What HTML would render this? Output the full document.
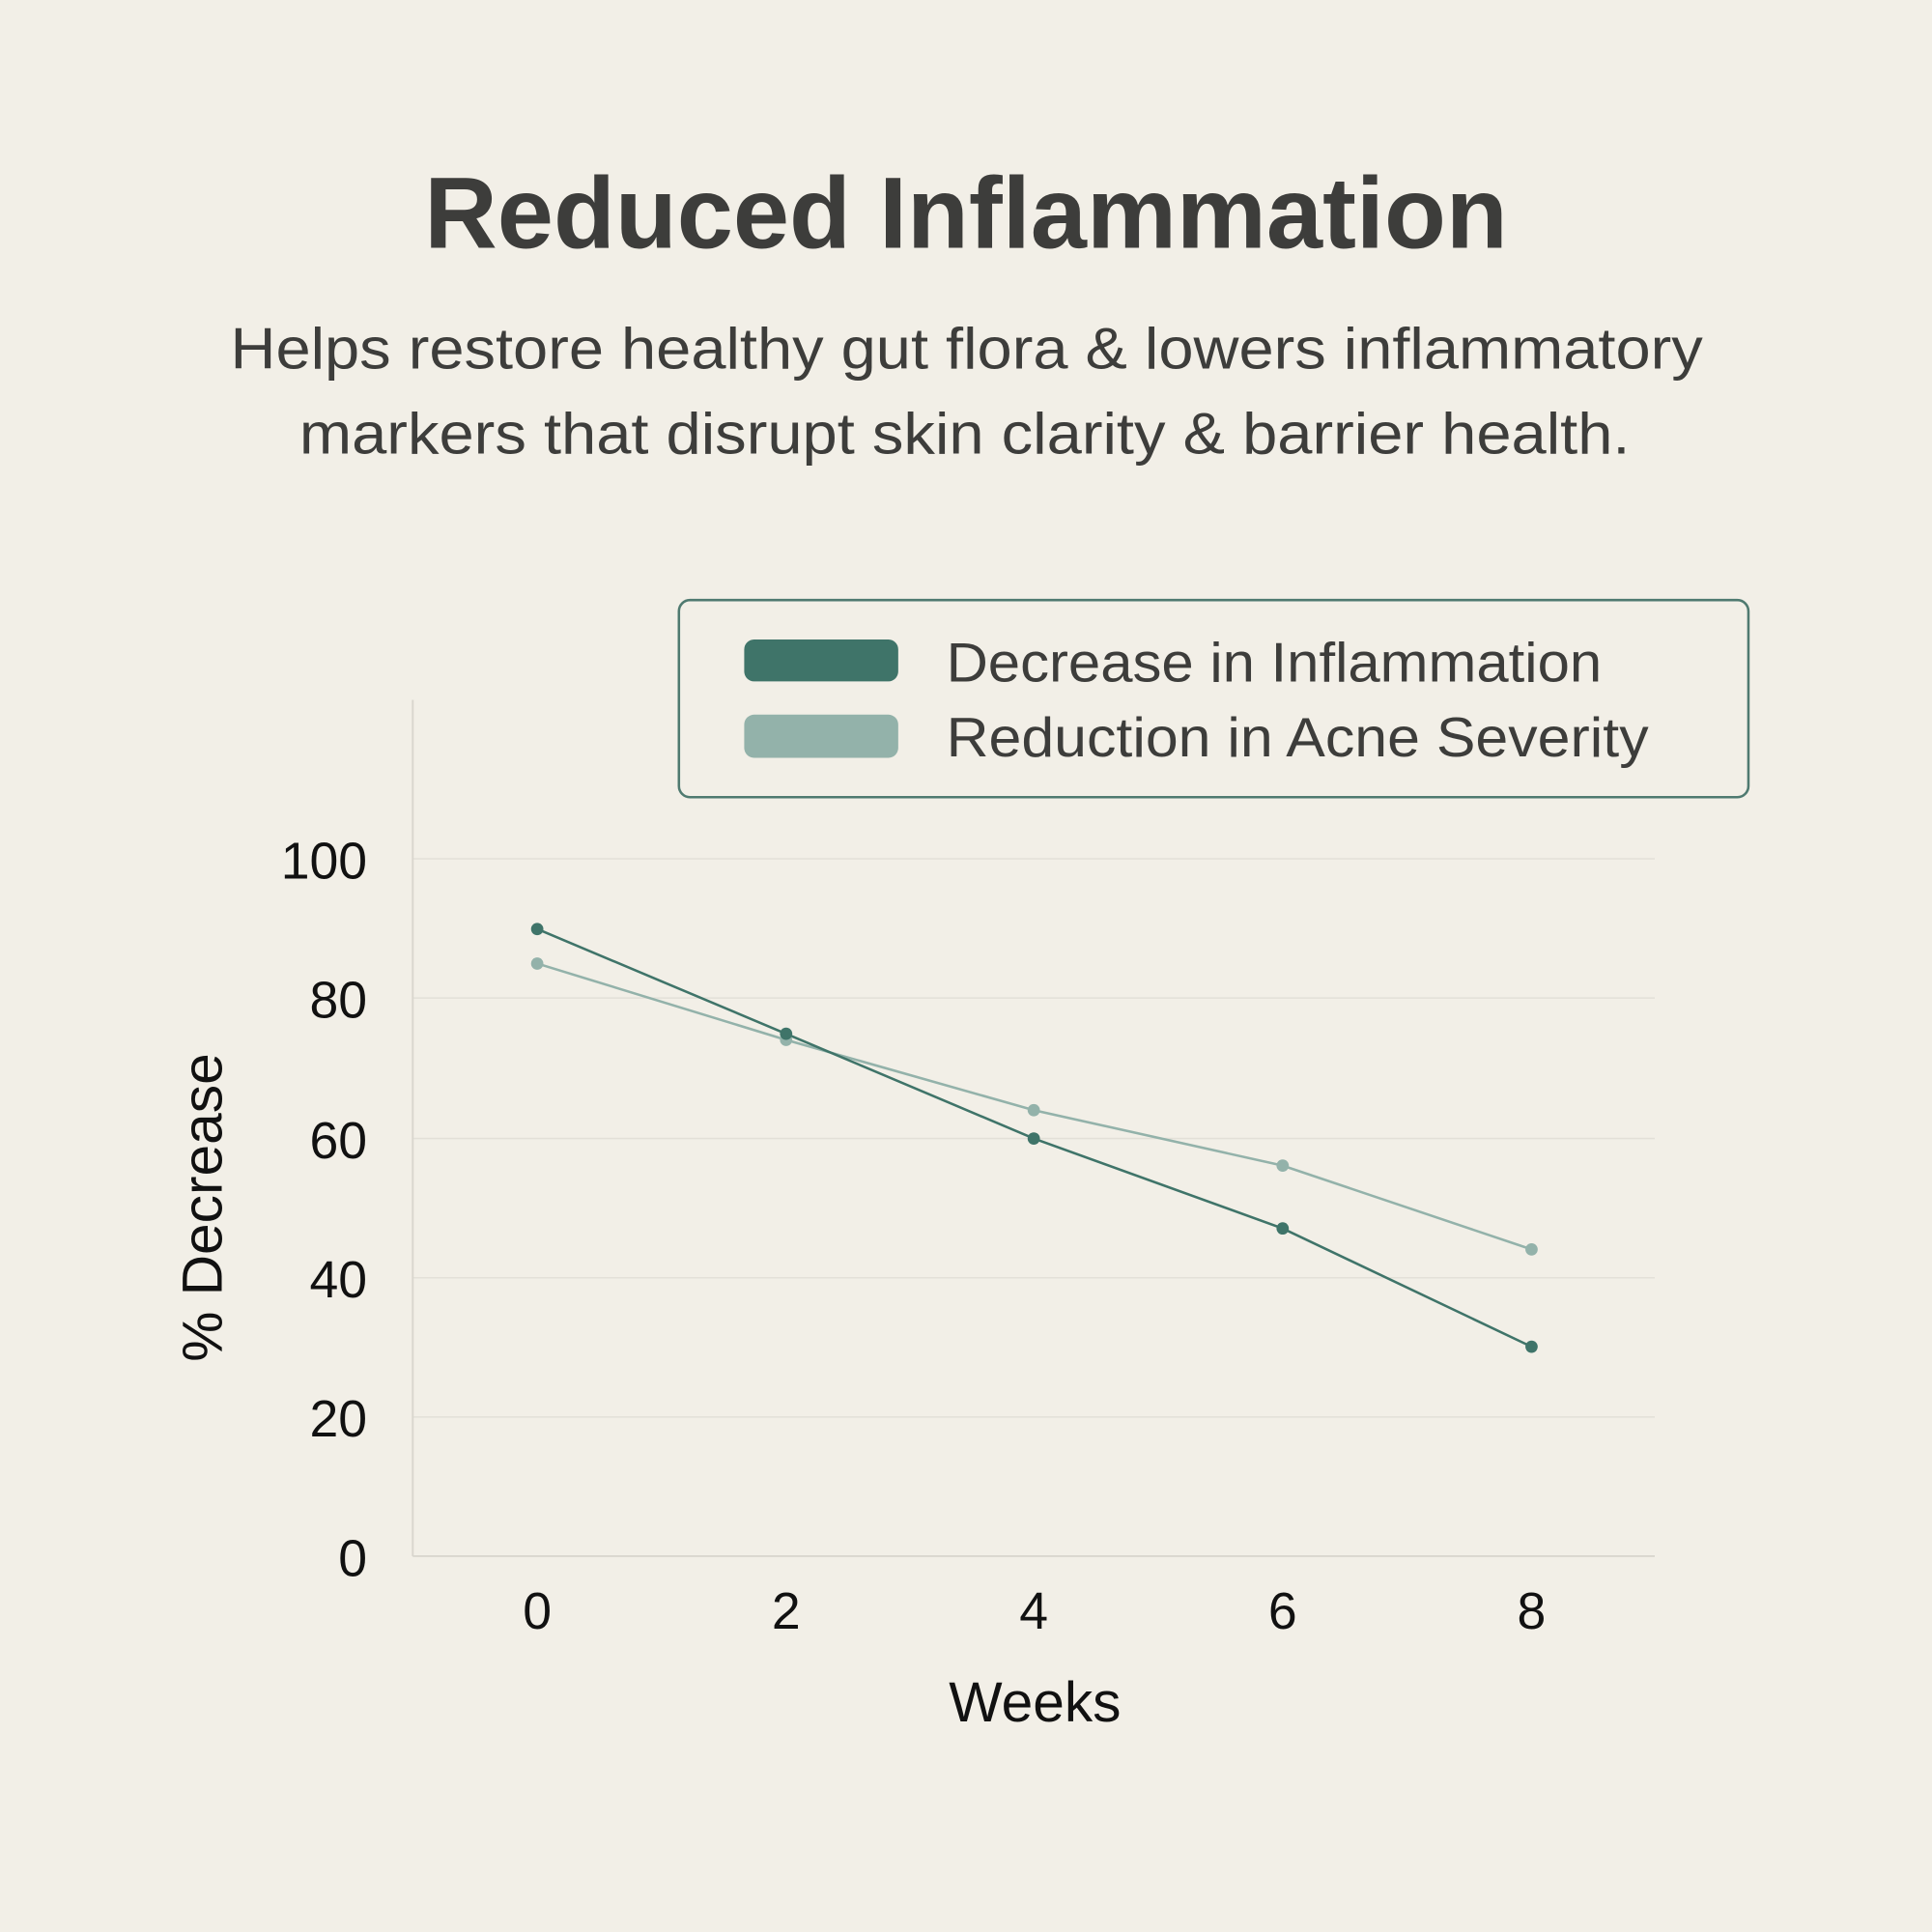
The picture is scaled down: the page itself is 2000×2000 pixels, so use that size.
<!DOCTYPE html>
<html><head><style>
html,body{margin:0;padding:0;background:#f2efe7;}
svg{display:block;}
text{font-family:"Liberation Sans",sans-serif;}
</style></head><body>
<svg width="2000" height="2000" viewBox="0 0 1568 1568" xmlns="http://www.w3.org/2000/svg">
<rect width="1568" height="1568" fill="#f2efe7"/>
<text x="784" y="201" text-anchor="middle" font-size="82" font-weight="bold" fill="#3d3d3b">Reduced Inflammation</text>
<text x="187" y="299" font-size="47" fill="#3d3d3b" textLength="1195" lengthAdjust="spacingAndGlyphs">Helps restore healthy gut flora &amp; lowers inflammatory</text>
<text x="243" y="368" font-size="47" fill="#3d3d3b" textLength="1080" lengthAdjust="spacingAndGlyphs">markers that disrupt skin clarity &amp; barrier health.</text>
<g stroke="#e3e0d8" stroke-width="1.2">
<line x1="335" y1="697" x2="1343" y2="697"/>
<line x1="335" y1="810" x2="1343" y2="810"/>
<line x1="335" y1="924" x2="1343" y2="924"/>
<line x1="335" y1="1037" x2="1343" y2="1037"/>
<line x1="335" y1="1150" x2="1343" y2="1150"/>
</g>
<line x1="335" y1="568" x2="335" y2="1263" stroke="#d9d6ce" stroke-width="1.5"/>
<line x1="335" y1="1263" x2="1343" y2="1263" stroke="#d9d6ce" stroke-width="1.5"/>
<g font-size="42" fill="#111" text-anchor="end">
<text x="298" y="713">100</text><text x="298" y="826">80</text><text x="298" y="940">60</text>
<text x="298" y="1053">40</text><text x="298" y="1166">20</text><text x="298" y="1279">0</text>
</g>
<g font-size="42" fill="#111" text-anchor="middle">
<text x="436" y="1322">0</text><text x="638" y="1322">2</text><text x="839" y="1322">4</text>
<text x="1041" y="1322">6</text><text x="1243" y="1322">8</text>
<text x="840" y="1397" font-size="46">Weeks</text>
</g>
<text transform="translate(180,980) rotate(-90)" text-anchor="middle" font-size="46" fill="#111">% Decrease</text>
<polyline points="436,782 638,844 839,901 1041,946 1243,1014" fill="none" stroke="#93b2aa" stroke-width="2"/>
<polyline points="436,754 638,839 839,924 1041,997 1243,1093" fill="none" stroke="#3f7469" stroke-width="2"/>
<g fill="#93b2aa"><circle cx="436" cy="782" r="5"/><circle cx="638" cy="844" r="5"/><circle cx="839" cy="901" r="5"/><circle cx="1041" cy="946" r="5"/><circle cx="1243" cy="1014" r="5"/></g>
<g fill="#3f7469"><circle cx="436" cy="754" r="5"/><circle cx="638" cy="839" r="5"/><circle cx="839" cy="924" r="5"/><circle cx="1041" cy="997" r="5"/><circle cx="1243" cy="1093" r="5"/></g>
<rect x="551" y="487" width="868" height="160" rx="9" fill="none" stroke="#4f7a70" stroke-width="2"/>
<rect x="604" y="519" width="125" height="34" rx="8" fill="#3f7469"/>
<rect x="604" y="580" width="125" height="35" rx="8" fill="#93b2aa"/>
<text x="768" y="553" font-size="45" fill="#3d3d3b" textLength="532" lengthAdjust="spacingAndGlyphs">Decrease in Inflammation</text>
<text x="768" y="614" font-size="45" fill="#3d3d3b" textLength="570" lengthAdjust="spacingAndGlyphs">Reduction in Acne Severity</text>
</svg>
</body></html>
